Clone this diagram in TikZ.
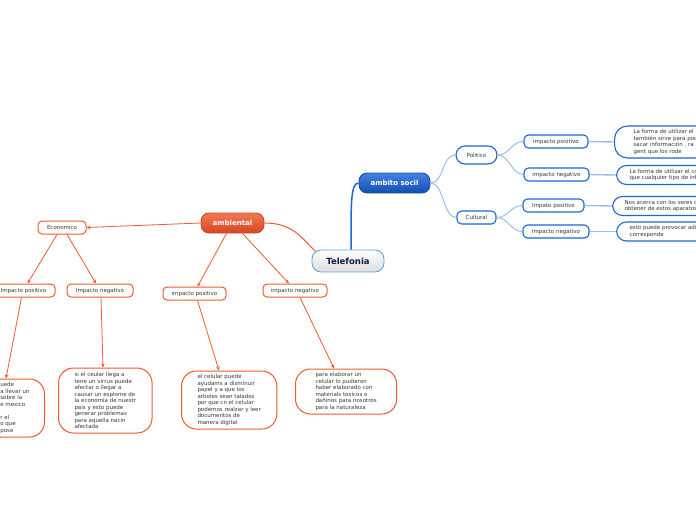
\documentclass[tikz,border=0pt]{standalone}
\usepackage{fontspec}
\setmainfont{DejaVu Sans}
\usetikzlibrary{arrows.meta, positioning}
\definecolor{orangeline}{RGB}{240,90,45}
\definecolor{orangetop}{RGB}{243,122,84}
\definecolor{orangebot}{RGB}{212,70,34}
\definecolor{blueline}{RGB}{28,102,214}
\definecolor{bluetop}{RGB}{68,130,224}
\definecolor{bluebot}{RGB}{18,78,178}
\definecolor{skyline}{RGB}{150,192,236}
\definecolor{rootline}{RGB}{100,165,222}
\definecolor{inktext}{RGB}{55,55,55}
\definecolor{navytext}{RGB}{12,30,72}

\begin{document}
\begin{tikzpicture}[x=1pt, y=-1pt,
    smalltext/.style={font=\fontsize{5.5}{6.5}\selectfont, text=inktext},
    mainbox/.style={line width=0.9pt, inner sep=0pt, font=\fontsize{7}{8}\selectfont\bfseries},
    obox/.style={smalltext, draw=orangeline, line width=1pt, rounded corners=4pt, fill=white, minimum height=13pt, inner sep=0pt},
    oleaf/.style={smalltext, draw=orangeline, line width=1pt, rounded corners=15pt, fill=white, align=left, inner ysep=0pt},
    bbox/.style={smalltext, draw=blueline, line width=1.1pt, rounded corners=4.5pt, fill=white, minimum height=13pt, inner sep=0pt},
    bleaf/.style={smalltext, draw=blueline, line width=1.1pt, rounded corners=10pt, fill=white, align=left, inner ysep=0pt},
    olink/.style={draw=orangeline, line width=0.8pt, -{Stealth[length=4pt, width=3.5pt]}},
    blink/.style={draw=skyline, line width=1pt},
]
\useasboundingbox (0,0) rectangle (696,520);
\clip (0,0) rectangle (696,520);
\fill[white] (0,0) rectangle (696,520);

% main topics
\node[mainbox, draw=rootline, rounded corners=9pt, top color=white, bottom color=gray!28,
      minimum width=72pt, minimum height=22pt, font=\fontsize{8.5}{10}\selectfont\bfseries,
      text=navytext] (telefonia) at (348,261) {Telefonia};
\node[mainbox, draw=blueline!80!black, rounded corners=8pt, top color=bluetop, bottom color=bluebot,
      minimum width=71pt, minimum height=20pt, text=white] (social) at (394.5,183) {ambito socil};
\node[mainbox, draw=orangeline!85!black, rounded corners=8pt, top color=orangetop, bottom color=orangebot,
      minimum width=63pt, minimum height=20pt, text=white] (ambiental) at (232.5,223) {ambiental};

% ambiental branch
\node[obox, minimum width=48pt] (economico) at (62,227.5) {Economico};
\node[obox, minimum width=63pt] (ecopos) at (23.5,290.5) {Impacto positivo};
\node[obox, minimum width=66pt] (econeg) at (100,290.5) {Impacto negativo};
\node[obox, minimum width=63pt] (ambpos) at (194.5,293.5) {impacto positivo};
\node[obox, minimum width=64pt] (ambneg) at (295,290.5) {impacto negativo};

\node[oleaf, anchor=east, inner xsep=15pt, minimum height=58pt] (ecoposleaf) at (45,408)
    {uede\\a llevar un\\sobre la\\e mexico\\\\r el\\o que\\pose};
\node[oleaf, anchor=west, inner xsep=16pt, minimum height=65pt] (econegleaf) at (58,400.5)
    {si el ceular llega a\\tene un virrus puede\\afectar o llegar a\\causar un esplome de\\la economia de nuestr\\pais y esto puede\\generar problemas\\para aquella nacin\\afectada};
\node[oleaf, anchor=west, inner xsep=16pt, minimum height=58pt] (ambposleaf) at (181,400)
    {el celular puede\\ayudams a disminuir\\papel y a que los\\arboles sean talados\\por que cn el celular\\podemos realzar y leer\\documentos de\\manera digital};
\node[oleaf, anchor=west, inner xsep=20pt, minimum height=45pt] (ambnegleaf) at (295,391.5)
    {para elaborar un\\celular lo pudieron\\haber elaborado con\\materials toxicos o\\dañinos para nosotros\\para la naturaleza};

% ambito socil branch
\node[bbox, minimum width=41pt, minimum height=18pt, rounded corners=9pt] (politico) at (476.5,155) {Politico};
\node[bbox, minimum width=39pt] (cultural) at (476.5,217.5) {Cultural};
\node[bbox, minimum width=64pt] (polpos) at (556,141.5) {impacto positivo};
\node[bbox, minimum width=65pt] (polneg) at (556.5,174.5) {impacto negativo};
\node[bbox, minimum width=61pt] (culpos) at (553.5,205.5) {Impato positivo};
\node[bbox, minimum width=66pt] (culneg) at (556,231.5) {Impacto negativo};

\node[bleaf, anchor=west, inner xsep=19pt, minimum height=32pt, rounded corners=13pt] (polposleaf) at (614,142)
    {La forma de utilizar el\\también sirve para poc\\sacar información ,  ra\\gent que los rode};
\node[bleaf, anchor=west, inner xsep=13pt, minimum height=19pt] (polnegleaf) at (616,175)
    {La forma de utilizar el co\\que cualquier tipo de inf};
\node[bleaf, anchor=west, inner xsep=12pt, minimum height=19pt] (culposleaf) at (612,206)
    {Nos acerca con los seres c\\obtener de estos aparatos};
\node[bleaf, anchor=west, inner xsep=13pt, minimum height=19pt] (culnegleaf) at (616,231.5)
    {esto puede provocar adi\\corresponde};

% connectors
\draw[olink, -, line width=1pt] (ambiental.east) .. controls +(28,0) and +(-14,-14) .. ([shift={(4,2)}]telefonia.north west);
\draw[draw=blueline, line width=1.5pt] ([xshift=3pt]telefonia.north) .. controls +(0,-45) and +(-8,0) .. (social.west);

\draw[olink] (ambiental.west) -- (economico.east);
\draw[olink] ([xshift=-5pt]economico.south) -- ([xshift=4pt]ecopos.north);
\draw[olink] ([xshift=5pt]economico.south) -- ([xshift=-4pt]econeg.north);
\draw[olink] ([xshift=-6pt]ambiental.south) -- ([xshift=3pt]ambpos.north);
\draw[olink] ([xshift=10pt]ambiental.south) -- ([xshift=-6pt]ambneg.north);
\draw[olink] ([xshift=-2pt]ecopos.south) -- ([xshift=-39pt]ecoposleaf.north east);
\draw[olink] ([xshift=1pt]econeg.south) -- ([xshift=45pt]econegleaf.north west);
\draw[olink] ([xshift=3pt]ambpos.south) -- ([xshift=38pt]ambposleaf.north west);
\draw[olink] ([xshift=5pt]ambneg.south) -- ([xshift=39pt]ambnegleaf.north west);

\draw[blink] (social.east) .. controls +(14,0) and +(-14,0) .. (politico.west);
\draw[blink] (social.east) .. controls +(14,0) and +(-14,0) .. (cultural.west);
\draw[blink] (politico.east) .. controls +(12,0) and +(-12,0) .. (polpos.west);
\draw[blink] (politico.east) .. controls +(12,0) and +(-12,0) .. (polneg.west);
\draw[blink] (cultural.east) .. controls +(12,0) and +(-12,0) .. (culpos.west);
\draw[blink] (cultural.east) .. controls +(12,0) and +(-12,0) .. (culneg.west);

\draw[blink, line width=1.4pt] (polpos.east) -- (polposleaf.west);
\draw[blink, line width=1.4pt] (polneg.east) -- (polnegleaf.west);
\draw[blink, line width=1.4pt] (culpos.east) -- (culposleaf.west);
\draw[blink, line width=1.4pt] (culneg.east) -- (culnegleaf.west);
\end{tikzpicture}
\end{document}
